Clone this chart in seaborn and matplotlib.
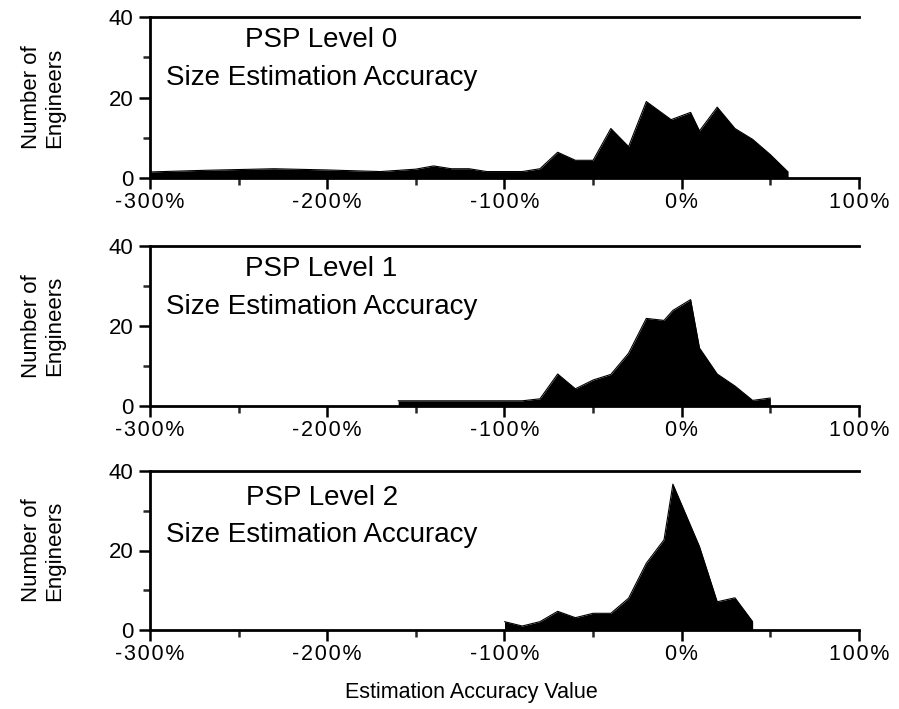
import matplotlib
matplotlib.use("Agg")
import matplotlib.pyplot as plt
import seaborn as sns
import numpy as np
import pandas as pd
from matplotlib.ticker import MultipleLocator, FuncFormatter

# ---- data ----
level0_x = [-300, -270, -230, -200, -170, -150, -140, -130, -120, -110, -90, -80, -70,
            -60, -50, -40, -30, -20, -6, 5, 10, 20, 30, 40, 50, 60]
level0_y = [1.5, 1.9, 2.3, 2.0, 1.6, 2.2, 3.0, 2.3, 2.3, 1.6, 1.6, 2.3, 6.4,
            4.4, 4.4, 12.3, 7.8, 19.0, 14.5, 16.3, 11.7, 17.6, 12.3, 9.6, 5.8, 1.5]

level1_x = [-160, -90, -80, -70, -60, -50, -40, -30, -20, -10, -5, 5, 10, 20, 30, 40, 50]
level1_y = [1.3, 1.3, 1.8, 8.0, 4.3, 6.5, 7.9, 13.2, 21.9, 21.4, 23.9, 26.6, 14.5, 8.0, 5.0, 1.4, 2.0]

level2_x = [-100, -90, -80, -70, -60, -50, -40, -30, -20, -10, -5, 10, 20, 30, 40]
level2_y = [2.1, 1.0, 2.1, 4.7, 3.1, 4.2, 4.2, 8.0, 16.8, 22.7, 36.7, 21.0, 7.1, 8.1, 2.1]

panel_titles = ["PSP Level 0", "PSP Level 1", "PSP Level 2"]
subtitle = "Size Estimation Accuracy"
ylabel = "Number of\nEngineers"
xlabel = "Estimation Accuracy Value"

sns.set_style("ticks")
plt.rcParams["font.family"] = ["Liberation Sans", "DejaVu Sans"]

fig = plt.figure(figsize=(8.99, 7.09), dpi=100)
W, H = 899, 709
left, right = 150, 859
panels = [(17, 178), (246, 406), (471, 630)]
title_y = [(0.815, 0.578), (0.81, 0.575), (0.785, 0.555)]
series = [(level0_x, level0_y), (level1_x, level1_y), (level2_x, level2_y)]

for i, ((top, bot), (xs, ys)) in enumerate(zip(panels, series)):
    ax = fig.add_axes([left / W, 1 - bot / H, (right - left) / W, (bot - top) / H])
    df = pd.DataFrame({"x": xs, "y": ys})
    sns.lineplot(data=df, x="x", y="y", ax=ax, color="black", linewidth=0.8)
    ax.fill_between(df["x"], 0, df["y"], color="black", linewidth=0)
    ax.set_xlim(-300, 100)
    ax.set_ylim(0, 40)
    ax.xaxis.set_major_locator(MultipleLocator(100))
    ax.xaxis.set_minor_locator(MultipleLocator(50))
    ax.yaxis.set_major_locator(MultipleLocator(20))
    ax.yaxis.set_minor_locator(MultipleLocator(10))
    ax.xaxis.set_major_formatter(FuncFormatter(lambda v, p: "\u200a".join(f"{int(v)}%")))
    ax.tick_params(axis="both", which="major", length=8, width=1.8, labelsize=16,
                   color="black", labelcolor="black", direction="out", pad=4)
    ax.tick_params(axis="x", which="major", labelsize=15.5, pad=2)
    ax.tick_params(axis="both", which="minor", length=5, width=1.8, direction="out")
    for s in ["left", "top", "bottom"]:
        ax.spines[s].set_visible(True)
        ax.spines[s].set_linewidth(2.0)
        ax.spines[s].set_color("black")
    ax.spines["right"].set_visible(False)
    ax.set_xlabel("")
    ax.set_ylabel(ylabel, fontsize=16, color="black", linespacing=1.15)
    ax.yaxis.set_label_coords(-0.12, 0.5)
    ax.text(0.242, title_y[i][0], panel_titles[i], transform=ax.transAxes, ha="center",
            va="baseline", fontsize=20, color="black")
    ax.text(0.242, title_y[i][1], subtitle, transform=ax.transAxes, ha="center",
            va="baseline", fontsize=20, color="black")
    if i == 2:
        ax.set_xlabel(xlabel, fontsize=15.5, color="black")
        ax.xaxis.set_label_coords(0.453, -0.33)

fig.savefig("out.png", dpi=100)
